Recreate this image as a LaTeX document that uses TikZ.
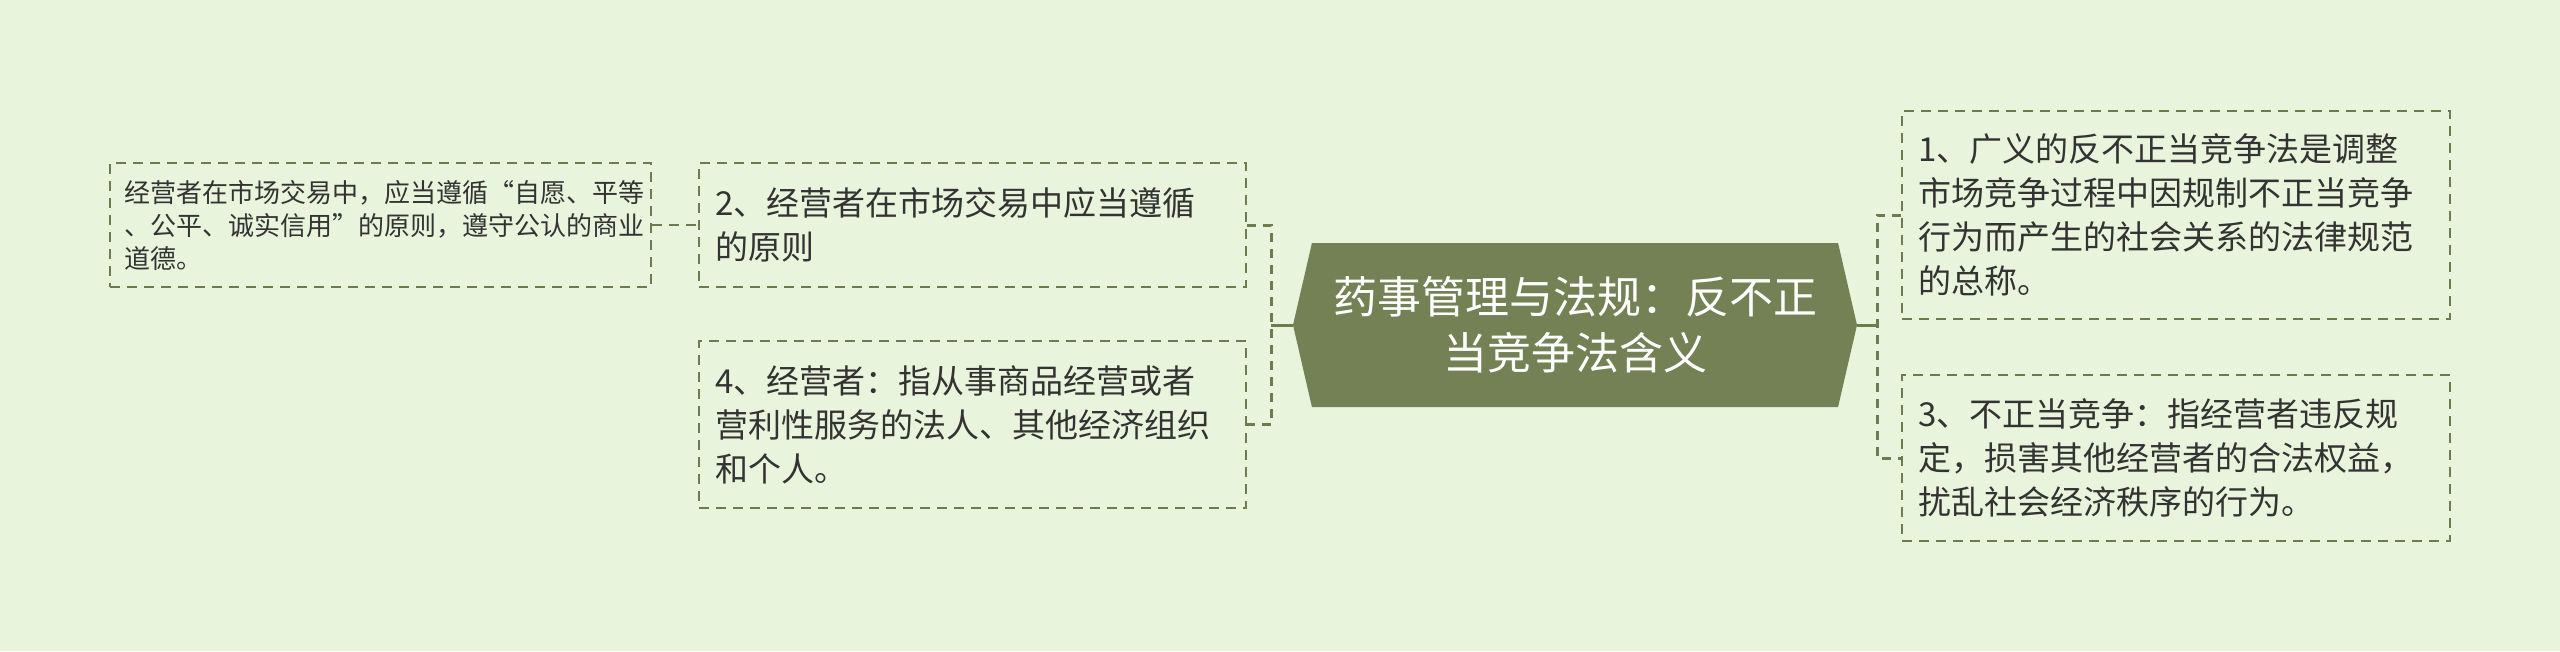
\documentclass[tikz,border=0pt]{standalone}
\usepackage{fontspec}
\setmainfont{Noto Sans CJK SC}
\usetikzlibrary{shapes.symbols}
\definecolor{bgmint}{HTML}{E8F5DC}
\definecolor{olive}{HTML}{738154}
\definecolor{branchline}{HTML}{6E7B4F}
\definecolor{inktext}{HTML}{333333}

\begin{document}
\begin{tikzpicture}[x=1pt, y=-1pt,
    topic/.style={signal, signal to=west and east, signal pointer angle=154,
        fill=olive, text=white, minimum width=564pt, minimum height=164pt,
        inner sep=0pt, align=center, font=\fontsize{44pt}{56pt}\selectfont},
    card/.style={draw=branchline, line width=2pt, dash pattern=on 10pt off 7pt,
        text=inktext, align=left, inner xsep=16pt, inner ysep=0pt,
        font=\fontsize{33pt}{44pt}\selectfont},
    leafcard/.style={card, inner xsep=14pt, font=\fontsize{26pt}{33pt}\selectfont},
    bracket/.style={draw=branchline, line width=3pt, dash pattern=on 9pt off 7pt},
    stem/.style={draw=branchline, line width=3pt}]
\fill[bgmint] (0,0) rectangle (2560,651);
\useasboundingbox (0,0) rectangle (2560,651);

% central topic
\node[topic] (topic) at (1575,325) {药事管理与法规：反不正\\当竞争法含义};

% left branches
\node[card, text width=515pt, minimum height=124pt] (n2) at (972.5,225)
    {2、经营者在市场交易中应当遵循\\的原则};
\node[card, text width=515pt, minimum height=167pt] (n4) at (972.5,424.5)
    {4、经营者：指从事商品经营或者\\营利性服务的法人、其他经济组织\\和个人。};
\node[leafcard, text width=513pt, minimum height=124pt] (leaf) at (380.5,225)
    {经营者在市场交易中，应当遵循“自愿、平等\\、公平、诚实信用”的原则，遵守公认的商业\\道德。};

% right branches
\node[card, text width=516pt, minimum height=208pt] (n1) at (2176,215)
    {1、广义的反不正当竞争法是调整\\市场竞争过程中因规制不正当竞争\\行为而产生的社会关系的法律规范\\的总称。};
\node[card, text width=516pt, minimum height=166pt] (n3) at (2176,458)
    {3、不正当竞争：指经营者违反规\\定，损害其他经营者的合法权益，\\扰乱社会经济秩序的行为。};

% connectors
\coordinate (lhub) at (1271,325);
\coordinate (rhub) at (1877,325);
\draw[stem] (topic.west) -- (lhub);
\draw[bracket] (n2.east) -| (lhub) |- (n4.east);
\draw[stem] (topic.east) -- (rhub);
\draw[bracket] (n1.west) -| (rhub) |- (n3.west);
\draw[card] (leaf.east) -- (n2.west);
\end{tikzpicture}
\end{document}
